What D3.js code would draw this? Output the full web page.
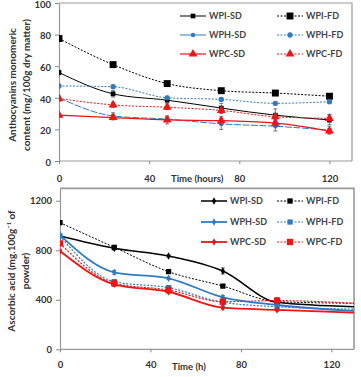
<!DOCTYPE html>
<html>
<head>
<meta charset="utf-8">
<script src="https://d3js.org/d3.v7.min.js"></script>
<style>
  body { margin: 0; background: #fff; }
  text { font-family: Lato, "Open Sans", sans-serif; font-weight: bold; fill: #333; }
</style>
</head>
<body>
<div id="chart"></div>
<script>
// ---- data: top panel (anthocyanins) ----
var hoursTop = [0, 24, 48, 72, 96, 120];
var anthoWPISD = [56, 42.5, 38.5, 33.5, 29, 26];
var anthoWPIFD = [77.5, 61, 49, 44.5, 43, 41];
var anthoWPHSD = [40, 28.5, 26.5, 23.5, 22, 19.5];
var anthoWPHFD = [47.5, 47, 40, 39, 36.5, 37.5];
var anthoWPCSD = [29, 27.5, 26, 25.5, 24, 19];
var anthoWPCFD = [39.5, 35.5, 34, 32, 28, 27];
var anthoErr = {
  "WPI-SD": [1.5, 2, 2, 3, 4, 3],
  "WPI-FD": [1, 1, 1, 1, 1, 1],
  "WPH-SD": [1, 2, 1.5, 3.5, 3, 2.5],
  "WPH-FD": [1, 1, 1, 1, 1, 1],
  "WPC-SD": [1, 1.5, 2.5, 2.5, 2, 1.5],
  "WPC-FD": [1.5, 1.5, 1.5, 2, 2, 2.5]
};
var yTicksTop = [0, 20, 40, 60, 80, 100];

// ---- data: bottom panel (ascorbic acid) ----
var hoursBot = [0, 24, 48, 72, 96, 130];
var ascWPISD = [915, 816, 754, 633, 380, 344];
var ascWPIFD = [1023, 824, 627, 511, 385, 372];
var ascWPHSD = [923, 622, 574, 420, 358, 310];
var ascWPHFD = [915, 546, 498, 380, 344, 325];
var ascWPCSD = [794, 525, 465, 336, 318, 296];
var ascWPCFD = [856, 533, 479, 385, 393, 372];
var ascErr = {
  "WPI-SD": [10, 15, 10, 25, 10, 0],
  "WPI-FD": [10, 10, 10, 10, 10, 0],
  "WPH-SD": [10, 15, 10, 15, 10, 0],
  "WPH-FD": [10, 10, 10, 10, 10, 0],
  "WPC-SD": [10, 15, 15, 10, 10, 0],
  "WPC-FD": [10, 20, 20, 30, 25, 0]
};
var yTicksBot = [0, 400, 800, 1200];
var xTicks = [0, 40, 80, 120];
var names = ["WPI-SD", "WPI-FD", "WPH-SD", "WPH-FD", "WPC-SD", "WPC-FD"];

var black = "#000", blue = "#2f7cc4", red = "#f01414";

var svg = d3.select("#chart").append("svg")
  .attr("width", 361).attr("height", 377);

function panel(cfg) {
  var x = d3.scaleLinear().domain([0, 130]).range([cfg.left, cfg.right]);
  var y = d3.scaleLinear().domain(cfg.ydom).range([cfg.bottom, cfg.top]);
  var g = svg.append("g");

  // frame
  g.append("path")
    .attr("d", `M${cfg.left},${cfg.top}H${cfg.right}V${cfg.bottom}`)
    .attr("fill", "none").attr("stroke", "#999").attr("stroke-width", cfg.frameW);

  // axes
  var xa = g.append("g").attr("transform", `translate(0,${cfg.bottom})`)
    .call(d3.axisBottom(x).tickValues(xTicks).tickFormat(d3.format("d"))
      .tickSize(3).tickSizeOuter(0).tickPadding(cfg.xpad));
  var ya = g.append("g").attr("transform", `translate(${cfg.left},0)`)
    .call(d3.axisLeft(y).tickValues(cfg.yticks).tickFormat(d3.format("d"))
      .tickSize(4).tickSizeOuter(0).tickPadding(4));
  [xa, ya].forEach(function (a) {
    a.selectAll(".domain").attr("stroke", "#999").attr("stroke-width", 1.2);
    a.selectAll(".tick line").attr("stroke", "#888");
    a.selectAll("text").attr("font-size", 9.5).attr("font-family", null).style("fill", "#333");
  });
  xa.select(".domain").attr("d", `M${cfg.left},0H${cfg.right}`);
  ya.selectAll(".tick text").attr("dy", cfg.ydy);

  g.append("text").attr("x", cfg.xlabX).attr("y", cfg.xlabY)
    .attr("font-size", 9.5).text(cfg.xlabel);

  cfg.ylabel.forEach(function (t, i) {
    g.append("text")
      .attr("transform", `translate(${cfg.ylabX[i]},${cfg.ylabY}) rotate(-90)`)
      .attr("text-anchor", "middle").attr("font-size", 10).text(t);
  });

  var clipId = "clip" + cfg.id;
  svg.append("clipPath").attr("id", clipId).append("rect")
    .attr("x", cfg.left).attr("y", cfg.top - 10)
    .attr("width", cfg.right - cfg.left).attr("height", cfg.bottom - cfg.top + 10);

  var line = d3.line().curve(d3.curveMonotoneX)
    .x(function (d) { return x(d.h); }).y(function (d) { return y(d.v); });

  var plot = g.append("g").attr("clip-path", `url(#${clipId})`);

  cfg.series.forEach(function (s) {
    var pts = s.values.map(function (v, i) { return { h: cfg.hours[i], v: v, e: cfg.err[s.name][i] }; });
    plot.append("path").attr("d", line(pts))
      .attr("fill", "none").attr("stroke", s.color)
      .attr("stroke-width", s.width).attr("stroke-dasharray", s.dash || null);

    var shown = pts.filter(function (d) { return d.h <= 120; });
    plot.selectAll(null).data(shown).enter().append("path")
      .attr("d", function (d) {
        return `M${x(d.h)},${y(d.v - d.e)}V${y(d.v + d.e)}` +
          `M${x(d.h) - 2},${y(d.v - d.e)}h4M${x(d.h) - 2},${y(d.v + d.e)}h4`;
      })
      .attr("stroke", "#555").attr("stroke-width", 0.8).attr("fill", "none");

    plot.selectAll(null).data(shown).enter().append("path")
      .attr("transform", function (d) { return `translate(${x(d.h)},${y(d.v)})`; })
      .attr("d", d3.symbol().type(s.symbol).size(s.size))
      .attr("fill", s.color);
  });

  // legend
  cfg.series.forEach(function (s, i) {
    var col = i % 2, row = Math.floor(i / 2);
    var lx = cfg.legX[col], ly = cfg.legY[row];
    var lg = g.append("g");
    lg.append("line").attr("x1", lx).attr("x2", lx + cfg.legLen).attr("y1", ly).attr("y2", ly)
      .attr("stroke", s.color).attr("stroke-width", s.width).attr("stroke-dasharray", s.legDash || null);
    lg.append("path").attr("transform", `translate(${lx + cfg.legLen / 2},${ly})`)
      .attr("d", d3.symbol().type(s.symbol).size(s.size)).attr("fill", s.color);
    lg.append("text").attr("x", lx + cfg.legLen + 3).attr("y", ly + 3.3)
      .attr("font-size", 9).style("fill", "#444").text(s.name);
  });
}

panel({
  id: "top", left: 59, right: 352, top: 3, bottom: 161, ydom: [0, 100],
  yticks: yTicksTop, xpad: 11, frameW: 1.2, ydy: "0.45em",
  xlabel: "Time (hours)", xlabX: 171, xlabY: 182,
  ylabel: ["Anthocyanins monomeric", "content (mg/100g dry matter)"], ylabX: [16, 30], ylabY: 85,
  hours: hoursTop, err: anthoErr,
  legX: [180, 277], legY: [16, 35, 54], legLen: 26,
  series: [
    { name: "WPI-SD", values: anthoWPISD, color: black, width: 1, symbol: d3.symbolSquare, size: 22 },
    { name: "WPI-FD", values: anthoWPIFD, color: black, width: 1, dash: "2,1.5", legDash: "2,1.5", symbol: d3.symbolSquare, size: 48 },
    { name: "WPH-SD", values: anthoWPHSD, color: blue, width: 1, dash: "7,1.5", symbol: d3.symbolCircle, size: 16 },
    { name: "WPH-FD", values: anthoWPHFD, color: blue, width: 1, dash: "2,1.5", legDash: "2,1.5", symbol: d3.symbolCircle, size: 22 },
    { name: "WPC-SD", values: anthoWPCSD, color: red, width: 1.2, symbol: d3.symbolTriangle, size: 34 },
    { name: "WPC-FD", values: anthoWPCFD, color: red, width: 1, dash: "2,1.5", legDash: "2,1.5", symbol: d3.symbolTriangle, size: 34 }
  ]
});

panel({
  id: "bot", left: 60, right: 354, top: 188.4, bottom: 349.3, ydom: [0, 1300],
  yticks: yTicksBot, xpad: 9, frameW: 1.6, ydy: "0.32em",
  xlabel: "Time (h)", xlabX: 172, xlabY: 370,
  ylabel: ["Ascorbic acid (mg.100g\u207B\u00B9 of", "powder)"], ylabX: [15, 29], ylabY: 271,
  hours: hoursBot, err: ascErr,
  legX: [201, 277], legY: [201, 222, 242], legLen: 26,
  series: [
    { name: "WPI-SD", values: ascWPISD, color: black, width: 1.5, symbol: d3.symbolDiamond, size: 16 },
    { name: "WPI-FD", values: ascWPIFD, color: black, width: 1, dash: "2,1.5", legDash: "2,1.5", symbol: d3.symbolSquare, size: 28 },
    { name: "WPH-SD", values: ascWPHSD, color: blue, width: 1.8, symbol: d3.symbolDiamond, size: 16 },
    { name: "WPH-FD", values: ascWPHFD, color: blue, width: 1.2, dash: "2,1.5", legDash: "2,1.5", symbol: d3.symbolSquare, size: 28 },
    { name: "WPC-SD", values: ascWPCSD, color: red, width: 1.8, symbol: d3.symbolDiamond, size: 16 },
    { name: "WPC-FD", values: ascWPCFD, color: red, width: 1.2, dash: "2,1.5", legDash: "2,1.5", symbol: d3.symbolSquare, size: 40 }
  ]
});
</script>
</body>
</html>
